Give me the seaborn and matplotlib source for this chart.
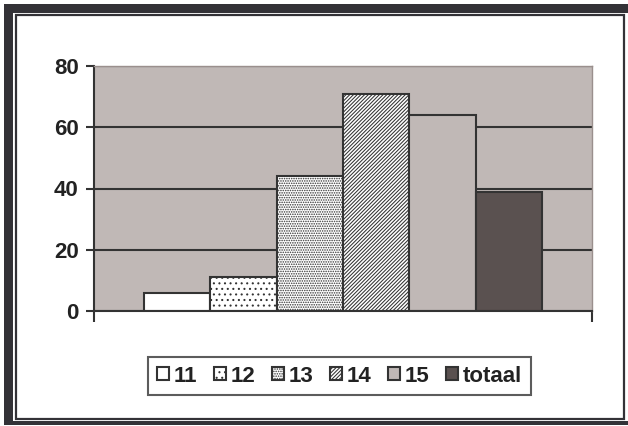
import matplotlib
matplotlib.use("Agg")
import matplotlib.pyplot as plt
from matplotlib.patches import Rectangle
import pandas as pd
import seaborn as sns

# chart data
labels = ["11", "12", "13", "14", "15", "totaal"]
values = [6, 11, 44, 71, 64, 39]
fills = ["white", "white", "white", "white", "#C0B8B6", "#5A5150"]
hatches = ["", "...", ".......", "/////////", "", ""]
y_ticks = [0, 20, 40, 60, 80]

df = pd.DataFrame({"groep": [""] * len(labels), "leeftijd": labels, "aantal": values})

plt.rcParams["font.family"] = ["Liberation Sans", "DejaVu Sans"]
plt.rcParams["font.weight"] = "bold"
plt.rcParams["hatch.linewidth"] = 0.75

W, H = 628, 426
fig = plt.figure(figsize=(W / 100, H / 100), dpi=100)
dark = "#333237"

# frame around the chart (dark band top/left/bottom, inner thin line)
fig.patches.append(Rectangle((4 / W, 1 / H), 1.0, 421 / H, transform=fig.transFigure,
                             facecolor=dark, edgecolor="none", zorder=-3))
fig.patches.append(Rectangle((13 / W, 5 / H), 1.0, 408 / H, transform=fig.transFigure,
                             facecolor="white", edgecolor="none", zorder=-2))
fig.patches.append(Rectangle((16 / W, 7 / H), 608 / W, 404 / H, transform=fig.transFigure,
                             facecolor="none", edgecolor=dark, linewidth=1.6, zorder=-1))

ax = fig.add_axes([94 / W, 115 / H, 498 / W, 245 / H])
ax.set_facecolor("#C0B8B6")

sns.barplot(data=df, x="groep", y="aantal", hue="leeftijd", hue_order=labels,
            palette=fills, width=0.8, edgecolor="#333333", linewidth=1.5,
            saturation=1, legend=False, ax=ax)

bars = [c.patches[0] for c in ax.containers]
for bar, h in zip(bars, hatches):
    bar.set_hatch(h)

ax.set_ylim(0, 80)
ax.set_xlim(-0.5, 0.5)
ax.set_yticks(y_ticks)
ax.set_xticks([-0.5, 0.5])
ax.set_xticklabels([])
ax.set_xlabel("")
ax.set_ylabel("")
ax.tick_params(axis="y", length=6, width=1.5, color="#333333", labelsize=16,
               labelcolor="#222222", pad=5)
ax.tick_params(axis="x", length=8, width=1.5, color="#333333")
ax.set_axisbelow(True)
ax.yaxis.grid(True, color="#333333", linewidth=1.5)

for side in ["top", "right"]:
    ax.spines[side].set_color("#9A8F8D")
    ax.spines[side].set_linewidth(1.0)
for side in ["left", "bottom"]:
    ax.spines[side].set_color("#333333")
    ax.spines[side].set_linewidth(1.5)

leg = fig.legend(handles=bars, labels=labels, loc="center", bbox_to_anchor=(339.5 / W, 50 / H),
                 ncol=6, fontsize=16, frameon=True, fancybox=False,
                 handlelength=0.55, handleheight=0.55, handletextpad=0.2,
                 columnspacing=0.75, borderpad=0.4, edgecolor="#333333")
leg.get_frame().set_linewidth(1.5)
for t in leg.get_texts():
    t.set_color("#222222")

fig.savefig("out.png", dpi=100)
